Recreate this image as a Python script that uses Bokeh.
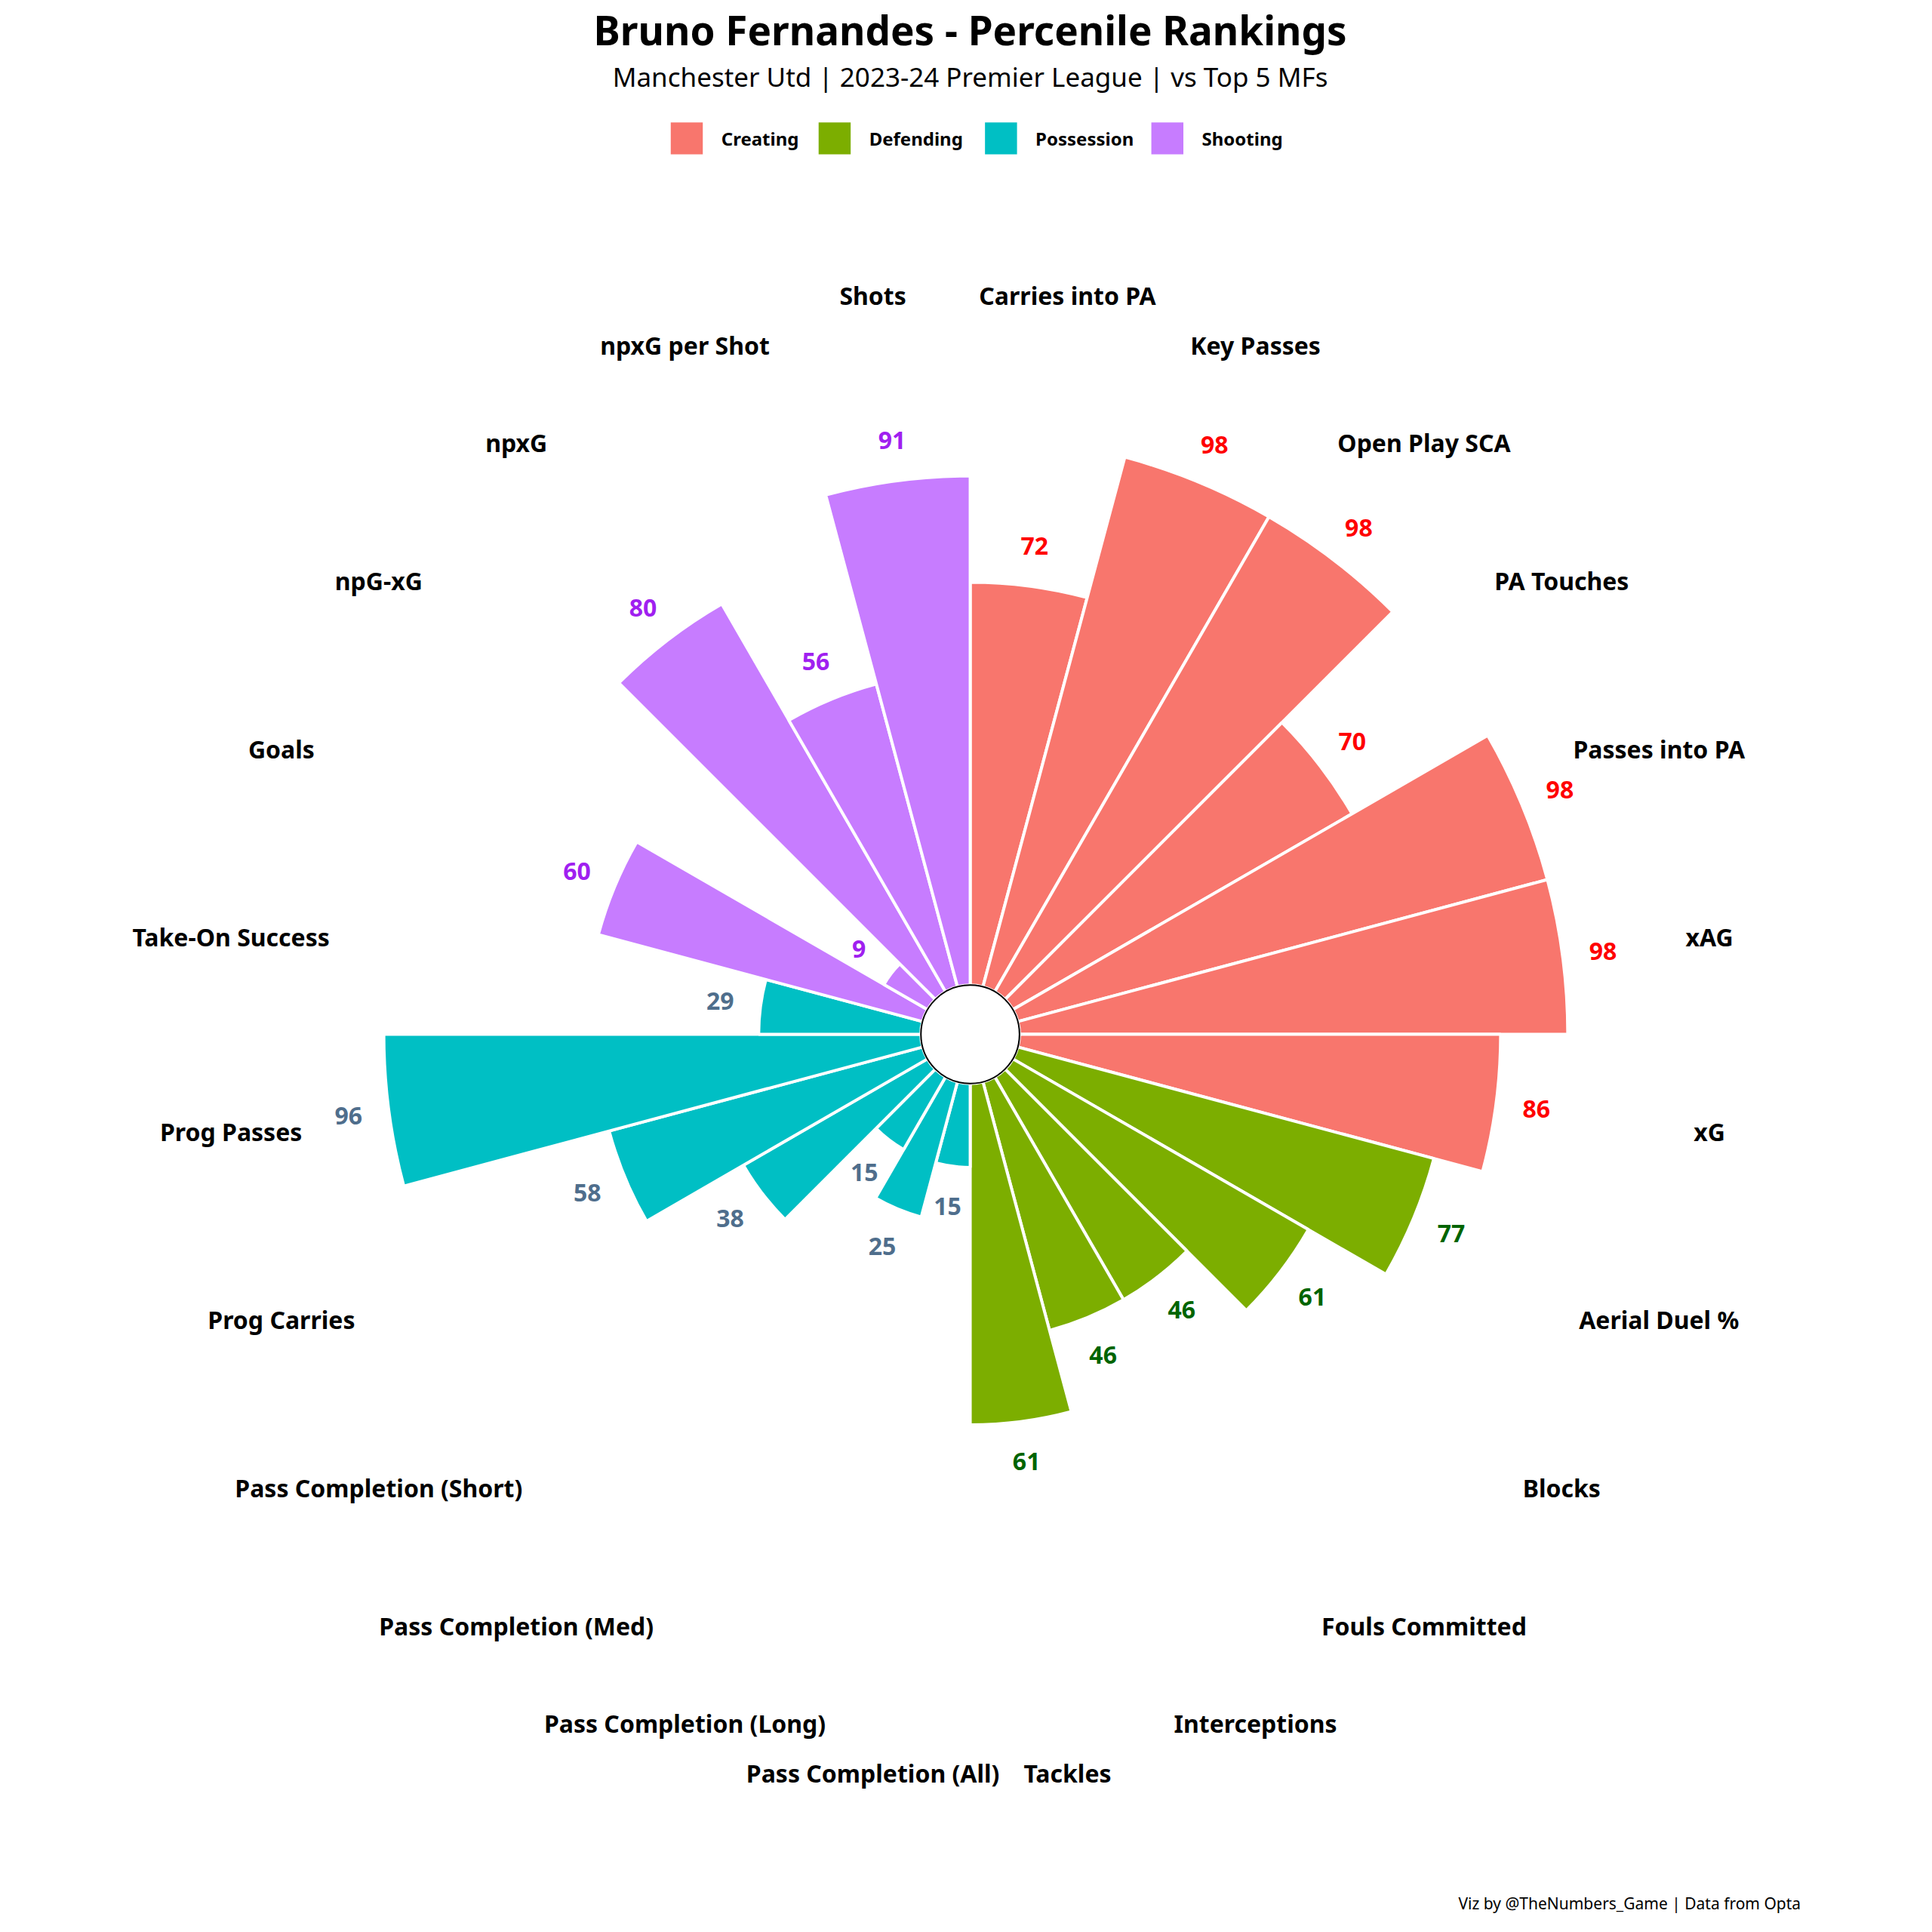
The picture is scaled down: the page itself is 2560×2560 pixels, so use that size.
import numpy as np
from bokeh.plotting import figure
from bokeh.models import ColumnDataSource
from bokeh.core.properties import value
from bokeh.embed import file_html
from bokeh.resources import INLINE

metrics = ["Carries into PA","Key Passes","Open Play SCA","PA Touches","Passes into PA","xAG","xG",
           "Aerial Duel %","Blocks","Fouls Committed","Interceptions","Tackles",
           "Pass Completion (All)","Pass Completion (Long)","Pass Completion (Med)","Pass Completion (Short)",
           "Prog Carries","Prog Passes","Take-On Success",
           "Goals","npG-xG","npxG","npxG per Shot","Shots"]
values = [72,98,98,70,98,98,86, 77,61,46,46,61, 15,25,15,38,58,96,29, 60,9,80,56,91]
groups = ["Creating"]*7 + ["Defending"]*5 + ["Possession"]*7 + ["Shooting"]*5
group_names = ["Creating","Defending","Possession","Shooting"]
fill = {"Creating":"#F8766D","Defending":"#7CAE00","Possession":"#00BFC4","Shooting":"#C77CFF"}
txtc = {"Creating":"#FF0000","Defending":"#006400","Possession":"#4F6E8C","Shooting":"#A020F0"}

F = "Noto Sans"
cx, cy = 787, 1568-840
r0, scale, rlab = 40, 4.54, 605
n = len(metrics)
step = 2*np.pi/n
i = np.arange(n)
end = np.pi/2 - step*i
start = end - step
mid = (start+end)/2
v = np.array(values, float)
outer = r0 + v*scale

src = ColumnDataSource(dict(
    start=start, end=end, outer=outer, fill=[fill[g] for g in groups],
    vx=cx+(outer+33)*np.cos(mid), vy=cy+(outer+33)*np.sin(mid), vt=[str(x) for x in values],
    vc=[txtc[g] for g in groups],
    lx=cx+rlab*np.cos(mid), ly=cy+rlab*np.sin(mid), lt=metrics))

p = figure(width=2544, height=2544, x_range=(0,1558), y_range=(9,1567),
           output_backend="svg", toolbar_location=None)
p.axis.visible = False
p.grid.visible = False
p.outline_line_color = None
p.min_border = 0

p.annular_wedge(x=cx, y=cy, inner_radius=r0, outer_radius="outer", start_angle="start", end_angle="end",
                fill_color="fill", line_color="white", line_width=4, source=src)
p.circle(x=cx, y=cy, radius=r0, fill_color="white", line_color="black", line_width=2)
p.text(x="vx", y="vy", text="vt", text_color="vc", text_font=value(F), text_font_style="bold",
       text_font_size="32px", text_align="center", text_baseline="middle", source=src)
p.text(x="lx", y="ly", text="lt", text_color="black", text_font=value(F), text_font_style="bold",
       text_font_size="32px", text_align="center", text_baseline="middle", source=src)

p.text(x=[787], y=[1568-25], text=["Bruno Fernandes - Percenile Rankings"], text_font=value(F),
       text_font_style="bold", text_font_size="53px", text_align="center", text_baseline="middle")
p.text(x=[787], y=[1568-63], text=["Manchester Utd | 2023-24 Premier League | vs Top 5 MFs"], text_font=value(F),
       text_font_size="35px", text_align="center", text_baseline="middle")
lx = [557, 677, 812, 947]
p.rect(x=lx, y=[1568-113]*4, width=26, height=26, fill_color=[fill[g] for g in group_names], line_color=None)
p.text(x=[x+28 for x in lx], y=[1568-113]*4, text=group_names, text_font=value(F), text_font_style="bold",
       text_font_size="24px", text_align="left", text_baseline="middle")
p.text(x=[1461], y=[1568-1545], text=["Viz by @TheNumbers_Game | Data from Opta"], text_font=value(F),
       text_font_size="21px", text_align="right", text_baseline="middle")

open("out.html","w").write(file_html(p, INLINE))
